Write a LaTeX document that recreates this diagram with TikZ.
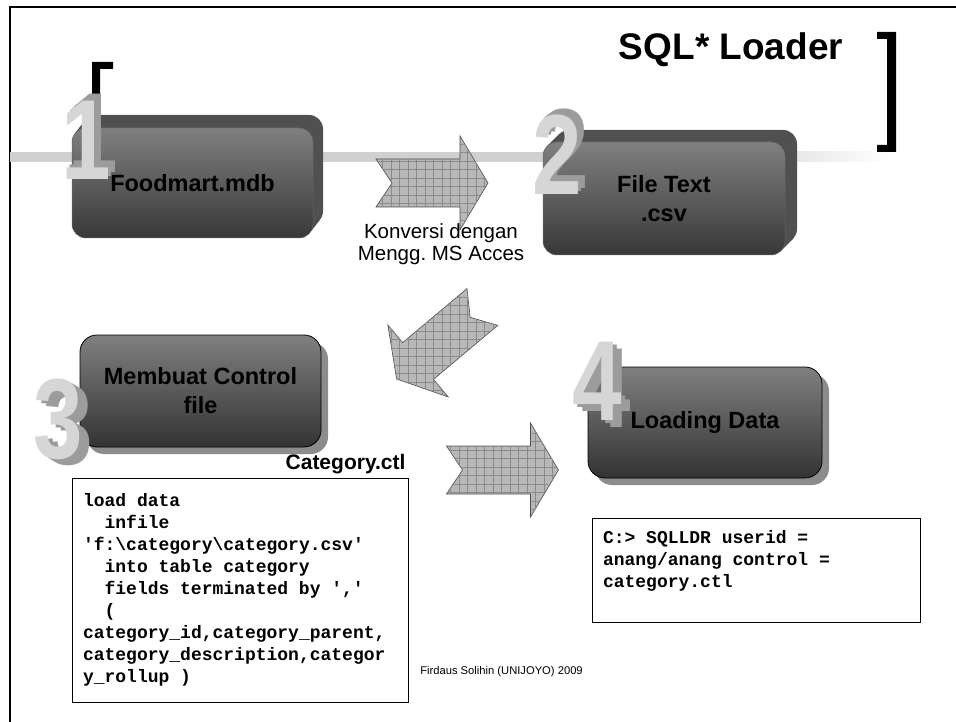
\documentclass[tikz,border=0pt]{standalone}
\usepackage{fontspec}
\setmainfont{Liberation Sans}
\setsansfont{Liberation Sans}
\setmonofont{Liberation Mono}
\usetikzlibrary{positioning,shadows,patterns.meta}

\definecolor{bandgray}{HTML}{D0D0D0}
\definecolor{sidegray}{HTML}{505050}
\definecolor{arrowfill}{HTML}{B8B8B8}
\definecolor{gridline}{HTML}{8A8A8A}
\definecolor{numlight}{HTML}{D6D6D6}
\definecolor{numdark}{HTML}{9C9C9C}

\newcommand{\boxfont}{\fontsize{23.5}{29}\selectfont\bfseries}
\newcommand{\codefont}{\fontsize{18}{22}\selectfont\ttfamily\bfseries}
\newcommand{\numfont}{\fontsize{114}{114}\selectfont\bfseries}

\tikzset{
  slab/.style={rectangle, rounded corners=14, minimum width=241, minimum height=110,
    top color=black!50, bottom color=black!78, draw=black!60, line width=.5,
    font=\boxfont, align=center},
  panel/.style={rectangle, rounded corners=17, minimum width=241, minimum height=112,
    top color=black!50, bottom color=black!80, draw=black, line width=.8,
    drop shadow={shadow xshift=7pt, shadow yshift=-7pt, fill=black!45, opacity=1},
    font=\boxfont, align=center},
  numface/.style={font=\numfont, text=numlight, inner sep=0, xscale=.78, transform shape},
  numside/.style={font=\numfont, text=numdark, inner sep=0, xscale=.78, transform shape},
  arrowbody/.style={draw=black!70, line width=.6, fill=arrowfill,
    postaction={pattern={Hatch[distance=8.5pt, line width=.5pt]}, pattern color=gridline}},
  codebox/.style={rectangle, draw, line width=.8, inner xsep=11, align=flush left,
    font=\codefont, execute at begin node={\spaceskip=10.8pt\relax}},
  fatarrow/.pic={
    \draw[arrowbody] (-56,-24) -- (28,-24) -- (28,-47) -- (56,0) -- (28,47)
      -- (28,24) -- (-56,24) -- (-40,0) -- cycle;
  }
}

\begin{document}
\frenchspacing
\begin{tikzpicture}[x=1pt, y=-1pt]
  \useasboundingbox (0,0) rectangle (956,722);
  % slide frame and band
  \draw[line width=2.5] (956,7) -- (10,7) -- (10,722);
  \fill[bandgray] (10,152) rectangle (700,162);
  \shade[left color=bandgray, right color=white] (700,152) rectangle (890,162);
  % brackets
  \fill (113,62) -- (92,62) -- (92,140) -- (100,140) -- (100,69) -- (113,69) -- cycle;
  \fill (877,32) -- (896,32) -- (896,152) -- (877,152) -- (877,145) -- (887,145)
    -- (887,39) -- (877,39) -- cycle;
  \node[font=\fontsize{37}{40}\selectfont\bfseries] (title) at (731,50) {SQL* Loader};

  % step 1 and 2
  \foreach \k in {13,...,1}
    \fill[sidegray, rounded corners=14, shift={(\k*0.77,-\k)}] (72,128) rectangle (313,238);
  \node[slab] (mdb) at (192.5,183) {Foodmart.mdb};
  \foreach \k in {12,...,1}
    \fill[sidegray, rounded corners=14, shift={(\k,-\k)}] (543,142) rectangle (785,255);
  \node[slab, minimum width=242, minimum height=113] (csv) at (664,198.5) {File Text\\.csv};

  % step 3 and 4
  \node[panel] (ctl) at (200.5,391) {Membuat Control\\file};
  \node[panel, minimum width=234, minimum height=111] (load) at (705,422.5) {Loading Data};

  % numbers
  \foreach \k in {2,1}
    \node[numside] (n1s\k) at ([shift={(\k*3.6,-\k*3.2)}]86,140) {1};
  \node[numface] (n1) at (86,140) {1};
  \foreach \k in {2,1}
    \node[numside] (n2s\k) at ([shift={(\k*3.6,-\k*3.2)}]557,155) {2};
  \node[numface] (n2) at (557,155) {2};
  \foreach \k in {2,1}
    \node[numside] (n3s\k) at ([shift={(\k*5,\k*3.2)}]58,419) {3};
  \node[numface] (n3) at (58,419) {3};
  \foreach \k in {2,1}
    \node[numside] (n4s\k) at ([shift={(\k*4.4,\k*3.6)}]597,381) {4};
  \node[numface] (n4) at (597,381) {4};

  % block arrows
  \pic (a12) at (432,183) {fatarrow};
  \pic[rotate=220] (a23) at (439.5,343) {fatarrow};
  \pic (a34) at (502.5,470) {fatarrow};
  \node[align=center, font=\fontsize{20.5}{22}\selectfont] (conv) at (441,244)
    {Konversi dengan\\Mengg. MS Acces};

  % control file and command
  \node[anchor=east, font=\fontsize{21}{24}\selectfont\bfseries] (ctlname) at (409,464) {Category.ctl};
  \node[codebox, text width=314, minimum height=224] (ctlcode) at (240,590)
    {load data\\
     \phantom{xx}infile\\
     'f:\textbackslash category\textbackslash category.csv'\\
     \phantom{xx}into table category\\
     \phantom{xx}fields terminated by ','\\
     \phantom{xx}(\\
     category\_id,category\_parent,\\
     category\_description,categor\\
     y\_rollup )};
  \node[codebox, text width=306, minimum height=104] (ldrcmd) at (756,570)
    {C:> SQLLDR userid =\\
     anang/anang control =\\
     category.ctl\\
     \mbox{}};
  \node[font=\fontsize{11.2}{13}\selectfont] (credit) at (501.5,672) {Firdaus Solihin (UNIJOYO) 2009};
\end{tikzpicture}
\end{document}
